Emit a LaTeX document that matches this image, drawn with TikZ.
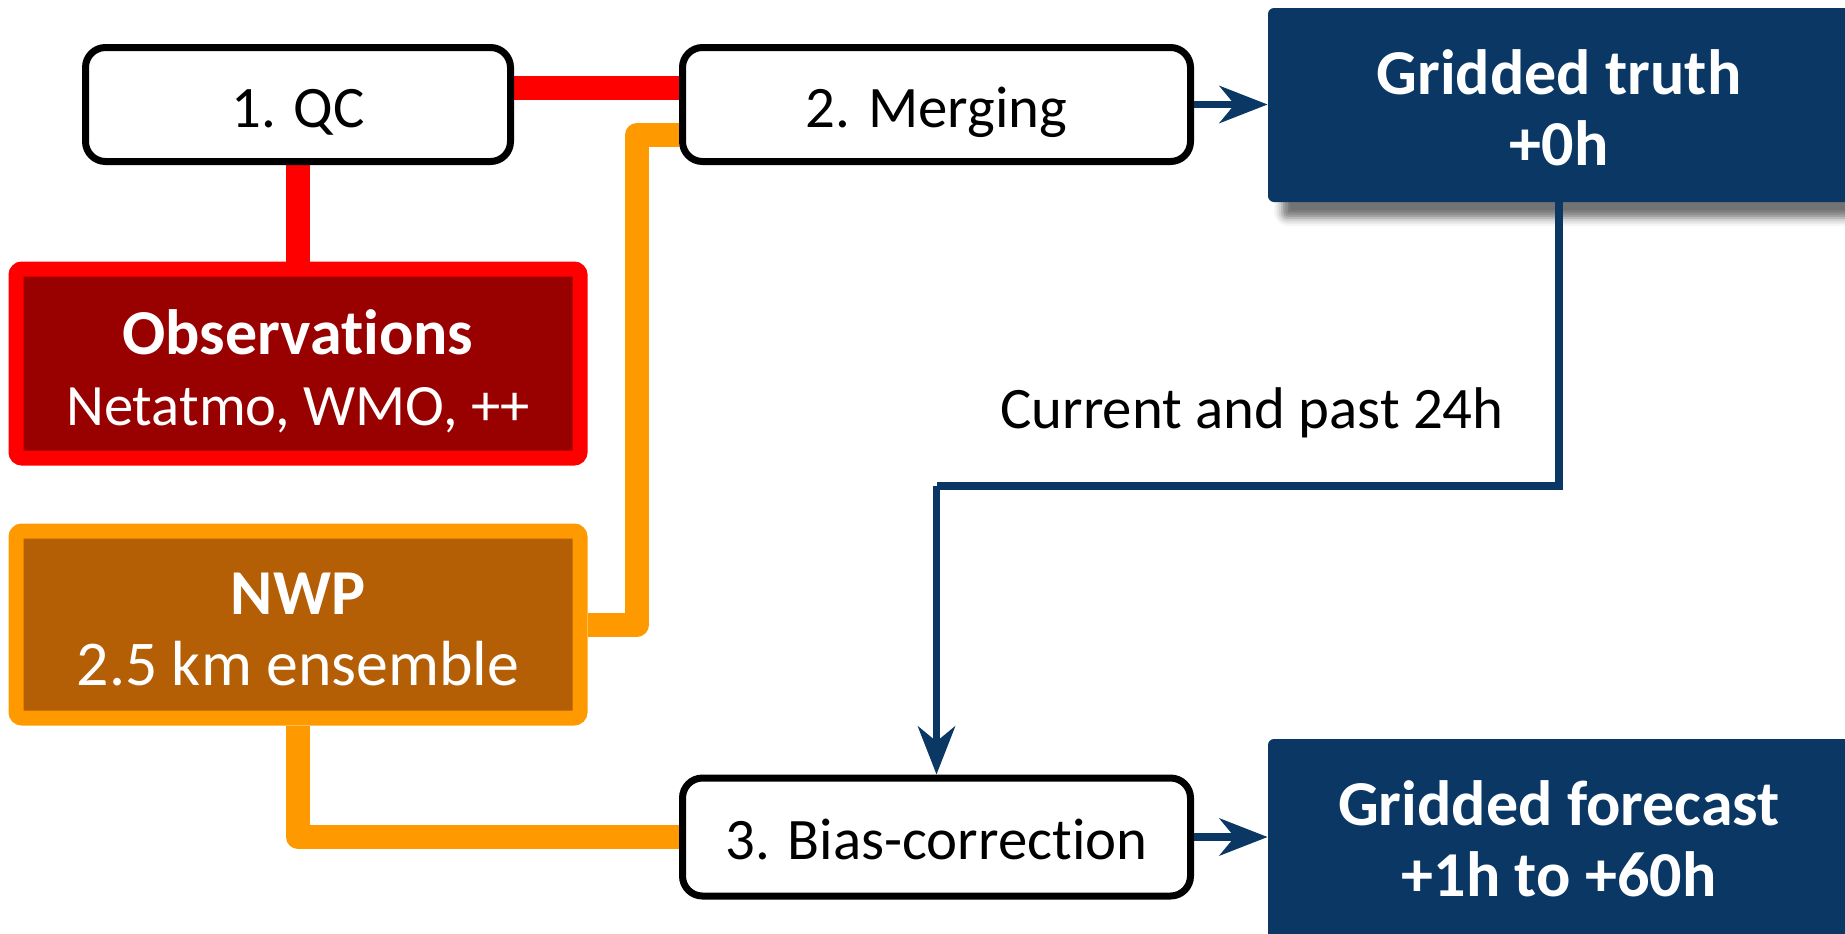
\documentclass[tikz,border=0pt]{standalone}
\usepackage{fontspec}
\setmainfont{Carlito}[Ligatures=NoCommon]
\usetikzlibrary{arrows.meta,shadows.blur,backgrounds,calc}
\definecolor{navy}{HTML}{0A3763}
\definecolor{obsred}{HTML}{FF0000}
\definecolor{obsfill}{HTML}{990000}
\definecolor{nwporange}{HTML}{FF9900}
\definecolor{nwpfill}{HTML}{B45F06}
\begin{document}
\begin{tikzpicture}[x=0.5pt,y=-0.5pt,
  procbox/.style={draw=black, line width=3.5pt, fill=white, rounded corners=10pt,
    minimum width=254pt, minimum height=57pt, inner sep=0pt,
    text height=22.5pt, text depth=0pt,
    font=\fontsize{29.4}{36}\selectfont},
  srcbox/.style={line width=7.5pt, rounded corners=3pt, minimum width=282pt,
    minimum height=94.5pt, inner sep=0pt},
  outbox/.style={fill=navy, rounded corners=3pt, minimum width=291pt, inner sep=0pt},
  boxtext/.style={text=white, align=center, inner sep=0pt,
    font=\fontsize{30}{35.5}\selectfont},
  outtext/.style={boxtext, font=\fontsize{32}{35.5}\selectfont\bfseries},
  redline/.style={draw=obsred, line width=12pt},
  orline/.style={draw=nwporange, line width=12pt, line join=round},
  navyarrow/.style={draw=navy, line width=3.8pt,
    -{Stealth[length=24pt, width=18.5pt, inset=7.5pt]}},
  lbl/.style={font=\fontsize{29.4}{36}\selectfont, inner sep=0pt}
]
\useasboundingbox (0,0) rectangle (1845,933);

% process boxes
\node[procbox, minimum width=212.5pt] (qc) at (298,104.5) {1. QC};
\node[procbox] (merge) at (936.5,104.5) {2. Merging};
\node[procbox, minimum height=59pt] (bias) at (936.5,837) {3. Bias-correction};

% source boxes
\node[srcbox, draw=obsred, fill=obsfill] (obs) at (298,363.5) {};
\node[boxtext] (obstext) at (298,371)
  {{\bfseries\fontsize{32}{35.5}\selectfont Observations}\\
   {\fontsize{29.3}{35.5}\selectfont Netatmo, WMO, ++}};
\node[srcbox, draw=nwporange, fill=nwpfill, minimum height=93.5pt] (nwp) at (298,624.5) {};
\node[boxtext] (nwptext) at (298,629.5)
  {{\bfseries\fontsize{32}{35.5}\selectfont NWP}\\
   {\fontsize{31.9}{35.5}\selectfont 2.5 km ensemble}};

% output boxes
\node[outbox, minimum height=97pt,
  blur shadow={shadow xshift=7pt, shadow yshift=-8pt, shadow blur radius=4pt, shadow opacity=55}]
  (truth) at (1559,105) {};
\node[outtext] (truthtext) at (1559,108) {Gridded truth\\+0h};
\node[outbox, minimum height=103pt] (fc) at (1559,842) {};
\node[outtext] (fctext) at (1559,839) {Gridded forecast\\+1h to +60h};

\node[lbl, anchor=base] (cur) at (1252,428) {Current and past 24h};

% helper coordinates
\coordinate (yr) at (0,88);
\coordinate (ot) at (637,135);
\coordinate (yb) at (0,486);

\begin{scope}[on background layer]
  \draw[redline] (qc.east |- yr) -- (merge.west |- yr);
  \draw[redline] (qc.south) -- (obs.north);
  \draw[orline] (nwp.east) -| (ot) -- (merge.west |- ot);
  \draw[orline] (nwp.south) |- (bias.west);
\end{scope}

\draw[navyarrow] (merge.east) -- (merge.east -| truth.west);
\draw[navyarrow] (bias.east) -- (bias.east -| fc.west);
\draw[navyarrow, -] (truth.south) |- (bias.north |- yb);
\draw[navyarrow] (bias.north |- yb) -- (bias.north);
\end{tikzpicture}
\end{document}
